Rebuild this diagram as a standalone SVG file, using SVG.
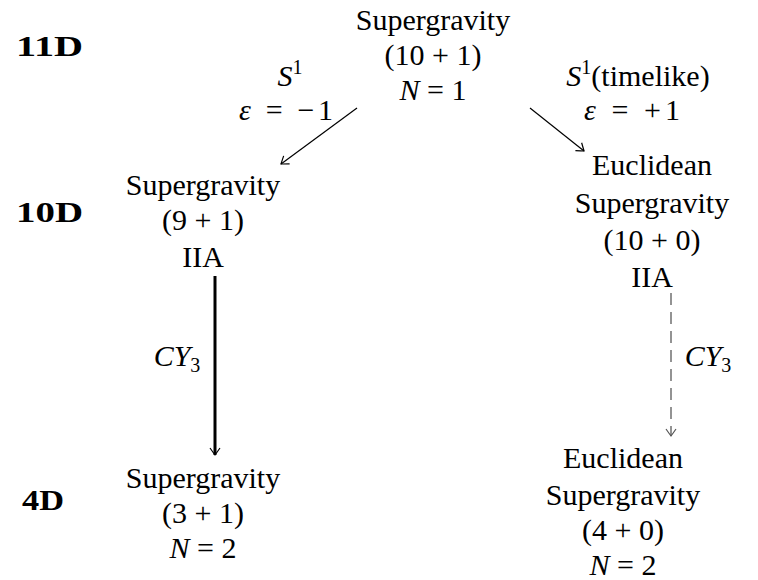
<svg xmlns="http://www.w3.org/2000/svg" width="758" height="580" viewBox="0 0 758 580">
<style>
text{font-family:"Liberation Serif","Times New Roman",serif;font-size:30px;fill:#000;text-anchor:middle}
.dim{font-weight:bold;text-anchor:start}
.i{font-style:italic}
.sup{font-size:20px}
.edge{fill:none;stroke:#000;stroke-width:1.2}
</style>
<defs>
<marker id="ah" markerUnits="userSpaceOnUse" viewBox="-10 -6 12 12" refX="0" refY="0" markerWidth="12" markerHeight="12" orient="auto">
<path d="M -7 -5 Q -2 -1.5 0 0 Q -2 1.5 -7 5" fill="none" stroke="#000" stroke-width="1.2"/>
</marker>
<marker id="ahg" markerUnits="userSpaceOnUse" viewBox="-10 -6 12 12" refX="0" refY="0" markerWidth="12" markerHeight="12" orient="auto">
<path d="M -7 -5 Q -2 -1.5 0 0 Q -2 1.5 -7 5" fill="none" stroke="#555" stroke-width="1.2"/>
</marker>
</defs>
<g id="dims">
<text class="dim" x="16" y="56" textLength="67" lengthAdjust="spacingAndGlyphs">11D</text>
<text class="dim" x="16" y="222" textLength="67" lengthAdjust="spacingAndGlyphs">10D</text>
<text class="dim" x="22" y="510" textLength="42" lengthAdjust="spacingAndGlyphs">4D</text>
</g>
<g id="n11">
<text x="433" y="30">Supergravity</text>
<text x="433" y="65">(10 + 1)</text>
<text x="433" y="100"><tspan class="i">N</tspan> = 1</text>
</g>
<g id="n10a">
<text x="203" y="195">Supergravity</text>
<text x="203" y="230">(9 + 1)</text>
<text x="203" y="267">IIA</text>
</g>
<g id="n10b">
<text x="652" y="175">Euclidean</text>
<text x="652" y="213">Supergravity</text>
<text x="652" y="250">(10 + 0)</text>
<text x="652" y="287">IIA</text>
</g>
<g id="n4a">
<text x="203" y="488">Supergravity</text>
<text x="203" y="523">(3 + 1)</text>
<text x="203" y="558"><tspan class="i">N</tspan> = 2</text>
</g>
<g id="n4b">
<text x="623" y="468">Euclidean</text>
<text x="623" y="505">Supergravity</text>
<text x="623" y="540">(4 + 0)</text>
<text x="623" y="575"><tspan class="i">N</tspan> = 2</text>
</g>
<g id="connectors">
<line class="edge" x1="357" y1="108" x2="281" y2="164" marker-end="url(#ah)"/>
<line class="edge" x1="530" y1="108" x2="584" y2="151" marker-end="url(#ah)"/>
<line x1="215" y1="276" x2="215" y2="455" stroke="#000" stroke-width="3" marker-end="url(#ah)"/>
<line x1="671" y1="293" x2="671" y2="436" stroke="#666" stroke-width="1.4" stroke-dasharray="12 7" marker-end="url(#ahg)"/>
<text x="290" y="86"><tspan class="i">S</tspan><tspan class="sup" dy="-12">1</tspan></text>
<text x="286" y="120" textLength="94" lengthAdjust="spacing"><tspan class="i">ε</tspan> = −1</text>
<text x="638" y="86"><tspan class="i">S</tspan><tspan class="sup" dy="-12">1</tspan><tspan dy="12">(timelike)</tspan></text>
<text x="632" y="120" textLength="96" lengthAdjust="spacing"><tspan class="i">ε</tspan> = +1</text>
<text x="177" y="366"><tspan class="i">CY</tspan><tspan class="sup" dy="6">3</tspan></text>
<text x="708" y="366"><tspan class="i">CY</tspan><tspan class="sup" dy="6">3</tspan></text>
</g>
</svg>
